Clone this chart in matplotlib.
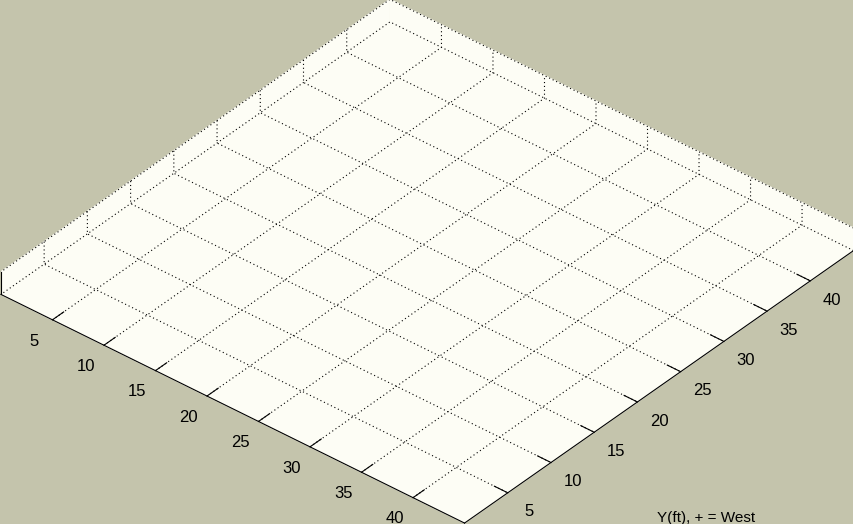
import numpy as np
import matplotlib
matplotlib.use('Agg')
import matplotlib.pyplot as plt
from mpl_toolkits.mplot3d import proj3d

# axes data (ft)
x_lim = [0, 45]
y_lim = [0, 45]
z_lim = [0, 1]
x_ticks = [5, 10, 15, 20, 25, 30, 35, 40]
y_ticks = [5, 10, 15, 20, 25, 30, 35, 40]
z_ticks = [0, 1]
y_label = 'Y(ft), + = West'

W, H = 854, 524
bg = '#c4c4ac'
pane = '#fdfdf5'

plt.rcParams['font.family'] = ['Liberation Sans', 'DejaVu Sans']
plt.rcParams['font.size'] = 12

fig = plt.figure(figsize=(W / 100, H / 100), dpi=100, facecolor=bg)
ax = fig.add_axes([0, 0, 1, 1], projection='3d', proj_type='ortho', facecolor=bg)
ax.view_init(elev=36, azim=-50)
ax.set_box_aspect((1, 1, 0.046))
ax.set_xlim(x_lim)
ax.set_ylim(y_lim)
ax.set_zlim(z_lim)
ax.set_xticks(x_ticks)
ax.set_yticks(y_ticks)
ax.set_zticks(z_ticks)
ax.set_zticklabels([])
ax.xaxis.set_tick_params(pad=6.5)
ax.yaxis.set_tick_params(pad=6.5)
ax.zaxis.set_ticks_position('lower')

for axis in (ax.xaxis, ax.yaxis, ax.zaxis):
    axis.set_pane_color(pane, alpha=1)
    axis._axinfo['tick']['inward_factor'] = 0.0
    axis._axinfo['tick']['outward_factor'] = 0.36
    axis._axinfo['grid'].update(color='k', linewidth=0.8, linestyle=(0, (1, 2.5)))
    axis._axinfo['axisline']['linewidth'] = 1.0
ax.zaxis._axinfo['tick']['outward_factor'] = 0.0
ax.zaxis._axinfo['axisline']['linewidth'] = 1.6

# first pass: find where the floor corners land, then move/scale the axes
fig.canvas.draw()
cx = np.array([x_lim[0], x_lim[1], x_lim[1], x_lim[0]], float)
cy = np.array([y_lim[0], y_lim[0], y_lim[1], y_lim[1]], float)
cz = np.full(4, z_lim[0], float)
px, py, _ = proj3d.proj_transform(cx, cy, cz, ax.get_proj())
d0 = ax.transData.transform(np.column_stack([px, py]))
bb = ax.bbox
L0 = bb.width
c0 = np.array([bb.x0 + bb.width / 2, bb.y0 + bb.height / 2])
q = (d0 - c0) / L0

# where the corners sit in the picture (pixels from top-left)
targets = np.array([[1, 294], [463, 523], [854, 251], [391, 22]], float)
targets[:, 1] = H - targets[:, 1]
A = []
b = []
for (qx, qy), (tx, ty) in zip(q, targets):
    A.append([1, 0, qx]); b.append(tx)
    A.append([0, 1, qy]); b.append(ty)
ccx, ccy, L = np.linalg.lstsq(np.array(A), np.array(b), rcond=None)[0]
ax.set_position([(ccx - L / 2) / W, (ccy - L / 2) / H, L / W, L / H])

fig.text(657 / W, 1 - 511 / H, y_label, ha='left', va='top', fontsize=11)

fig.savefig('out.png', dpi=100, facecolor=bg)
